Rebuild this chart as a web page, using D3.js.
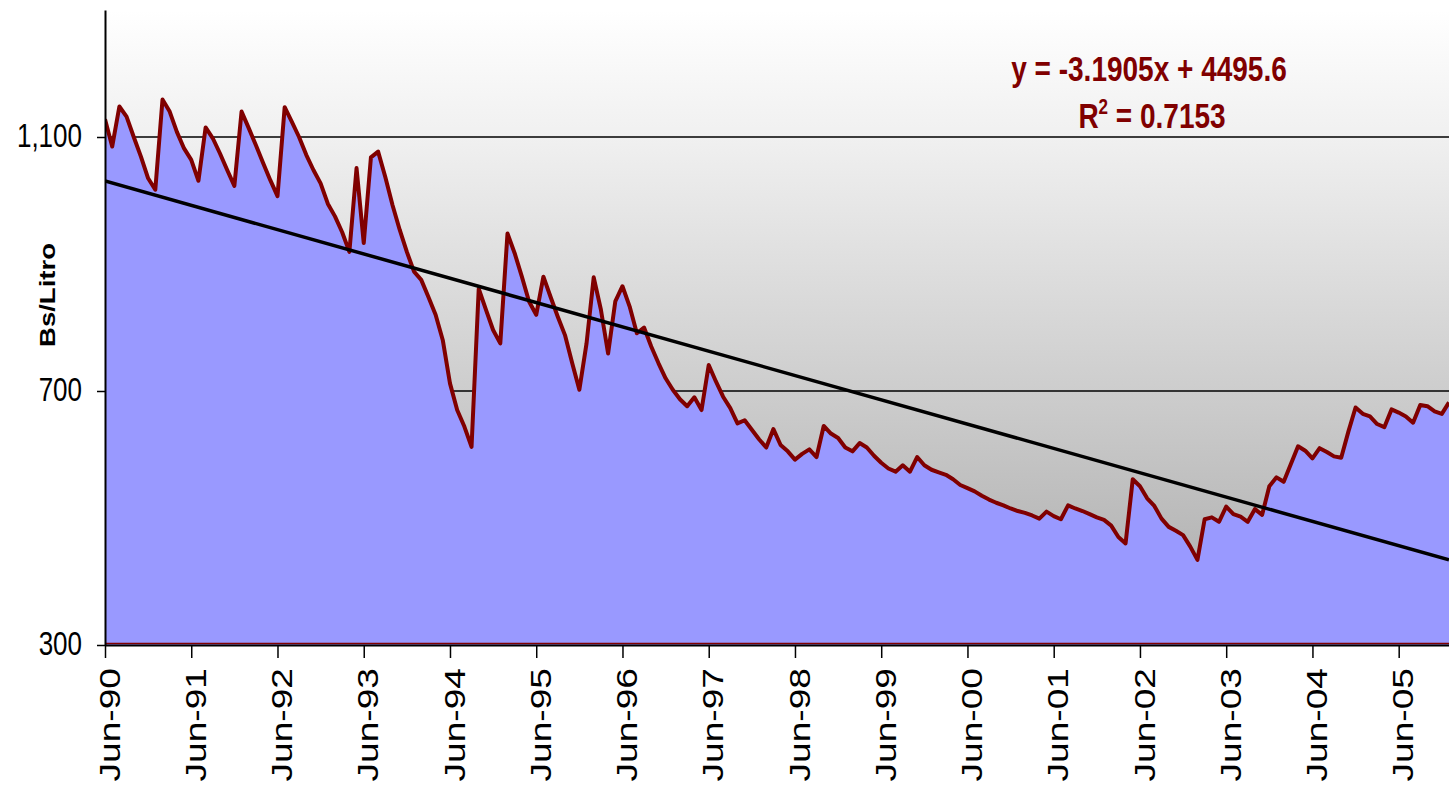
<html>
<head>
<style>
  body { margin: 0; background: #fff; }
  text { font-family: "Liberation Sans", Arial, sans-serif; }
</style>
<script src="https://d3js.org/d3.v7.min.js"></script>
</head>
<body>
<script>
// monthly price, Jun-90 .. Jan-06 (Bs/Litro)
const prices = [
  1128, 1085, 1148, 1132, 1100, 1069, 1035, 1017, 1159, 1140, 1108, 1082,
  1064, 1031, 1115, 1098, 1074, 1048, 1023, 1140, 1114, 1087, 1059, 1032,
  1007, 1147, 1124, 1100, 1072, 1048, 1027, 995, 975, 950, 919, 1051,
  933, 1068, 1077, 1037, 993, 954, 919, 888, 875, 848, 820, 780,
  712, 670, 644, 612, 861, 828, 796, 775, 948, 917, 880, 841,
  820, 880, 848, 817, 788, 744, 702, 775, 879, 828, 759, 841,
  865, 833, 791, 800, 770, 744, 720, 702, 687, 676, 690, 670,
  741, 715, 691, 673, 649, 654, 639, 624, 611, 640, 615, 605,
  592, 601, 608, 596, 645, 633, 626, 611, 605, 618, 611, 598,
  587, 578, 573, 583, 573, 596, 583, 576, 572, 568, 561, 552,
  547, 542, 535, 529, 524, 520, 515, 511, 508, 504, 499, 510,
  503, 498, 520, 515, 511, 506, 501, 497, 488, 470, 460, 561,
  550, 531, 519, 499, 486, 480, 473, 455, 434, 498, 501, 494,
  518, 506, 502, 494, 514, 505, 550, 564, 557, 585, 613, 606,
  594, 610, 604, 597, 595, 636, 674, 664, 660, 648, 643, 671,
  666, 660, 650, 678, 676, 668, 664, 682
];
const tickLabels = ["Jun-90", "Jun-91", "Jun-92", "Jun-93", "Jun-94", "Jun-95", "Jun-96", "Jun-97",
                    "Jun-98", "Jun-99", "Jun-00", "Jun-01", "Jun-02", "Jun-03", "Jun-04", "Jun-05"];
const yTicks = [300, 700, 1100];
const gridValues = [700, 1100];

// linear trend shown on the chart (x counts months, Jun-90 = 1086)
const trendSlope = -3.1905;
const trendIntercept = 4495.6;
const trendX0 = 1086;
const eqText = "y = -3.1905x + 4495.6";
const r2Text = "0.7153";

const w = 1449, h = 789;
const pLeft = 105, pRight = 1449, pTop = 10, pBottom = 645;

const svg = d3.select("body").append("svg")
  .attr("width", w).attr("height", h);

const x = d3.scaleLinear().domain([0, prices.length - 1]).range([pLeft, pRight]);
const y = d3.scaleLinear().domain([300, 1300]).range([pBottom, pTop]);

const defs = svg.append("defs");
const grad = defs.append("linearGradient")
  .attr("id", "bg").attr("x1", 0).attr("y1", 0).attr("x2", 0).attr("y2", 1);
grad.append("stop").attr("offset", "0%").attr("stop-color", "#ffffff");
grad.append("stop").attr("offset", "20%").attr("stop-color", "#f0f0f0");
grad.append("stop").attr("offset", "60%").attr("stop-color", "#cdcdcd");
grad.append("stop").attr("offset", "100%").attr("stop-color", "#a9a9a9");
defs.append("clipPath").attr("id", "clip")
  .append("rect").attr("x", pLeft).attr("y", pTop)
  .attr("width", pRight - pLeft).attr("height", pBottom - pTop);

svg.append("rect")
  .attr("x", pLeft).attr("y", pTop)
  .attr("width", pRight - pLeft).attr("height", pBottom - pTop)
  .attr("fill", "url(#bg)");

svg.selectAll(".grid")
  .data(gridValues)
  .enter().append("line")
  .attr("class", "grid")
  .attr("x1", pLeft).attr("x2", pRight)
  .attr("y1", d => y(d)).attr("y2", d => y(d))
  .attr("stroke", "#000").attr("stroke-width", 1.4);

const plot = svg.append("g").attr("clip-path", "url(#clip)");

const area = d3.area()
  .x((d, i) => x(i))
  .y0(y(300))
  .y1(d => y(d));
plot.append("path")
  .datum(prices)
  .attr("d", area)
  .attr("fill", "#9999ff");

const line = d3.line()
  .x((d, i) => x(i))
  .y(d => y(d));
plot.append("path")
  .datum(prices)
  .attr("d", line)
  .attr("fill", "none")
  .attr("stroke", "#800000")
  .attr("stroke-width", 4)
  .attr("stroke-linejoin", "round");

const trendEnds = [0, prices.length - 1];
plot.append("path")
  .datum(trendEnds)
  .attr("d", d3.line()
    .x(i => x(i))
    .y(i => y(trendSlope * (trendX0 + i) + trendIntercept)))
  .attr("fill", "none")
  .attr("stroke", "#000")
  .attr("stroke-width", 3.5);

plot.append("line")
  .attr("x1", pLeft).attr("x2", pRight)
  .attr("y1", pBottom - 1.5).attr("y2", pBottom - 1.5)
  .attr("stroke", "#800000").attr("stroke-width", 1.5);

// y axis
const yAxis = d3.axisLeft(y)
  .tickValues(yTicks)
  .tickFormat(d3.format(","))
  .tickSize(8)
  .tickSizeOuter(0)
  .tickPadding(15);
const gy = svg.append("g")
  .attr("transform", "translate(" + pLeft + ",0)")
  .call(yAxis);
gy.select(".domain").attr("stroke", "#000").attr("stroke-width", 2);
gy.selectAll(".tick line").attr("stroke", "#000").attr("stroke-width", 1.5);
gy.selectAll(".tick text")
  .attr("font-size", 26)
  .attr("fill", "#000")
  .attr("transform", "scale(1,1.25)")
  .attr("dy", "0.3em");

// x axis
const xAxis = d3.axisBottom(x)
  .tickValues(tickLabels.map((d, i) => i * 12))
  .tickFormat((d, i) => tickLabels[i])
  .tickSize(13)
  .tickSizeOuter(0);
const gx = svg.append("g")
  .attr("transform", "translate(0," + pBottom + ")")
  .call(xAxis);
gx.select(".domain").attr("stroke", "#000").attr("stroke-width", 2);
gx.selectAll(".tick line").attr("stroke", "#000").attr("stroke-width", 1.5);
gx.selectAll(".tick text")
  .attr("font-size", 29)
  .attr("fill", "#000")
  .attr("text-anchor", "end")
  .attr("transform", "scale(1,1.28) rotate(-90)")
  .attr("x", -18)
  .attr("y", 4)
  .attr("dy", "0.35em");

// axis title
svg.append("text")
  .attr("transform", "translate(47,295) scale(1,1.25) rotate(-90)")
  .attr("text-anchor", "middle")
  .attr("dy", "0.35em")
  .attr("font-size", 22)
  .attr("font-weight", "bold")
  .text("Bs/Litro");

// trend equation
svg.append("text")
  .attr("transform", "translate(1149,81) scale(1,1.25)")
  .attr("text-anchor", "middle")
  .attr("font-size", 28)
  .attr("font-weight", "bold")
  .attr("fill", "#800000")
  .text(eqText);
const r2 = svg.append("text")
  .attr("transform", "translate(1152,128) scale(1,1.25)")
  .attr("text-anchor", "middle")
  .attr("font-size", 28)
  .attr("font-weight", "bold")
  .attr("fill", "#800000");
r2.append("tspan").text("R");
r2.append("tspan").attr("font-size", 17).attr("dy", -11).text("2");
r2.append("tspan").attr("dy", 11).text(" = " + r2Text);
</script>
</body>
</html>
